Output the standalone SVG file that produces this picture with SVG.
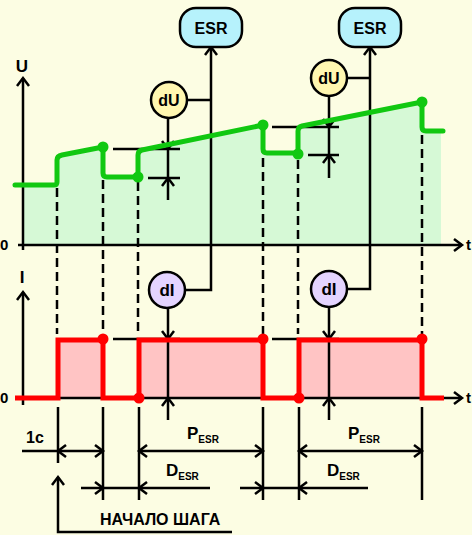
<svg xmlns="http://www.w3.org/2000/svg" xmlns:xlink="http://www.w3.org/1999/xlink" width="472" height="535" viewBox="0 0 472 535">
<style>
.ln{fill:none;stroke:#000;stroke-width:2.5}
.ds{fill:none;stroke:#000;stroke-width:2.5;stroke-dasharray:9 5}
.ch{fill:none;stroke:#000;stroke-width:2.5;stroke-linejoin:miter}
.gr{fill:none;stroke:#11c811;stroke-width:5;stroke-linejoin:round;stroke-linecap:round}
.rd{fill:none;stroke:#ff0000;stroke-width:5;stroke-linejoin:miter}
.t{font-family:"Liberation Sans",Arial,sans-serif;font-weight:bold;fill:#000}
.box{stroke:#000;stroke-width:2.5}
</style>
<defs>
<path id="chev" class="ch" d="M-8,-6 L0,0 L-8,6"/>
</defs>
<rect width="472" height="535" fill="#fcfde3"/>
<g id="fills">
<path d="M23,185 L57,185 L57,158 L62,155 L103,147 L103,177 L138,177 L138,152 L142,150 L263,125 L263,153 L298,153 L298,128 L302,126 L422,102 L422,131 L441,131 L441,245 L23,245 Z" fill="#d6f9d6"/>
<rect x="58" y="340" width="45" height="58" fill="#ffc4c4"/>
<rect x="139" y="340" width="124" height="58" fill="#ffc4c4"/>
<rect x="299" y="340" width="123" height="58" fill="#ffc4c4"/>
</g>
<g id="connectors">
<path class="ln" d="M23,250 L23,78 M18,245 L462,245 M23,405 L23,292 M18,398 L462,398"/>
<use xlink:href="#chev" transform="translate(23,78) rotate(-90)"/>
<use xlink:href="#chev" transform="translate(462,245)"/>
<use xlink:href="#chev" transform="translate(23,292) rotate(-90)"/>
<use xlink:href="#chev" transform="translate(462,398)"/>
<path class="ds" d="M57,188 L57,334 M103,152 L103,336 M138,182 L138,334 M263,130 L263,336 M298,160 L298,334 M422,107 L422,336"/>
<path class="ln" d="M187,100 L211,100 M211,47 L211,290 L185,290 M348,78 L370,78 M370,47 L370,289 L347,289"/>
<use xlink:href="#chev" transform="translate(211,47) rotate(-90)"/>
<use xlink:href="#chev" transform="translate(370,47) rotate(-90)"/>
<path class="ln" d="M168,118 L168,200 M113,149 L180,149 M148,178 L180,178"/>
<use xlink:href="#chev" transform="translate(168,149) rotate(90)"/>
<use xlink:href="#chev" transform="translate(168,178) rotate(-90)"/>
<path class="ln" d="M329,96 L329,178 M272,127 L339,127 M308,155 L339,155"/>
<use xlink:href="#chev" transform="translate(329,127) rotate(90)"/>
<use xlink:href="#chev" transform="translate(329,155) rotate(-90)"/>
<path class="ln" d="M168,308 L168,420 M113,339 L180,339"/>
<use xlink:href="#chev" transform="translate(168,339) rotate(90)"/>
<use xlink:href="#chev" transform="translate(168,398) rotate(-90)"/>
<path class="ln" d="M329,307 L329,420 M272,339 L339,339"/>
<use xlink:href="#chev" transform="translate(329,339) rotate(90)"/>
<use xlink:href="#chev" transform="translate(329,398) rotate(-90)"/>
<path class="ln" d="M58,407 L58,463 M103,407 L103,500 M139,407 L139,500 M263,407 L263,500 M299,407 L299,500 M422,407 L422,500"/>
<path class="ln" d="M22,451 L103,451 M139,451 L263,451 M299,451 L422,451 M81,488 L210,488 M240,488 L368,488"/>
<use xlink:href="#chev" transform="translate(58,451) rotate(180)"/>
<use xlink:href="#chev" transform="translate(103,451)"/>
<use xlink:href="#chev" transform="translate(139,451) rotate(180)"/>
<use xlink:href="#chev" transform="translate(263,451)"/>
<use xlink:href="#chev" transform="translate(299,451) rotate(180)"/>
<use xlink:href="#chev" transform="translate(422,451)"/>
<use xlink:href="#chev" transform="translate(103,488)"/>
<use xlink:href="#chev" transform="translate(139,488) rotate(180)"/>
<use xlink:href="#chev" transform="translate(263,488)"/>
<use xlink:href="#chev" transform="translate(299,488) rotate(180)"/>
<path class="ln" d="M58,477 L58,532 L232,532"/>
<use xlink:href="#chev" transform="translate(58,477) rotate(-90)"/>
</g>
<g id="voltage-curve">
<path class="gr" d="M15,185 L54,185 Q57,185 57,182 L57,160 Q57,156 62,155 L103,147 L103,173 Q103,177 107,177 L138,177 L138,155 Q138,151 142,150 L263,125 L263,149 Q263,153 267,153 L298,153 L298,131 Q298,127 302,126 L422,102 L422,127 Q422,131 426,131 L443,131"/>
<g fill="#11c811"><circle cx="103" cy="147" r="5.5"/><circle cx="138" cy="177" r="5.5"/><circle cx="263" cy="125" r="5.5"/><circle cx="298" cy="154" r="5.5"/><circle cx="422" cy="102" r="5.5"/></g>
</g>
<g id="current-curve">
<path class="rd" d="M15,398 L58,398 L58,340 L103,340 L103,398 L139,398 L139,340 L263,340 L263,398 L299,398 L299,340 L422,340 L422,398 L444,398"/>
<g fill="#ff0000"><circle cx="103" cy="339" r="5.5"/><circle cx="139" cy="398" r="5.5"/><circle cx="263" cy="339" r="5.5"/><circle cx="299" cy="398" r="5.5"/><circle cx="422" cy="339" r="5.5"/></g>
</g>
<g id="esr1"><rect class="box" x="180" y="8" width="62" height="39" rx="16" fill="#b6f2fc"/><text class="t" x="211" y="34" font-size="16" text-anchor="middle">ESR</text></g>
<g id="esr2"><rect class="box" x="339" y="8" width="62" height="39" rx="16" fill="#b6f2fc"/><text class="t" x="370" y="34" font-size="16" text-anchor="middle">ESR</text></g>
<g id="du1"><circle class="box" cx="169" cy="100" r="18" fill="#fff7b0"/><text class="t" x="169" y="106" font-size="16" text-anchor="middle">dU</text></g>
<g id="du2"><circle class="box" cx="329" cy="78" r="18" fill="#fff7b0"/><text class="t" x="329" y="84" font-size="16" text-anchor="middle">dU</text></g>
<g id="di1"><circle class="box" cx="167" cy="290" r="18" fill="#e4d4ff"/><text class="t" x="167" y="296" font-size="17" text-anchor="middle">dI</text></g>
<g id="di2"><circle class="box" cx="329" cy="289" r="18" fill="#e4d4ff"/><text class="t" x="329" y="295" font-size="17" text-anchor="middle">dI</text></g>
<g id="labels">
<text class="t" x="22" y="72" font-size="17" text-anchor="middle">U</text>
<text class="t" x="22" y="283" font-size="17" text-anchor="middle">I</text>
<text class="t" x="0" y="250" font-size="15">0</text>
<text class="t" x="0" y="403" font-size="15">0</text>
<text class="t" x="466" y="250" font-size="15">t</text>
<text class="t" x="466" y="403" font-size="15">t</text>
<text class="t" x="26" y="443" font-size="16">1c</text>
<text class="t" x="187" y="439" font-size="17">P<tspan font-size="10" dy="4">ESR</tspan></text>
<text class="t" x="348" y="439" font-size="17">P<tspan font-size="10" dy="4">ESR</tspan></text>
<text class="t" x="166" y="476" font-size="17">D<tspan font-size="10" dy="4">ESR</tspan></text>
<text class="t" x="327" y="476" font-size="17">D<tspan font-size="10" dy="4">ESR</tspan></text>
<text class="t" x="100" y="525" font-size="16">НАЧАЛО ШАГА</text>
</g>
</svg>
